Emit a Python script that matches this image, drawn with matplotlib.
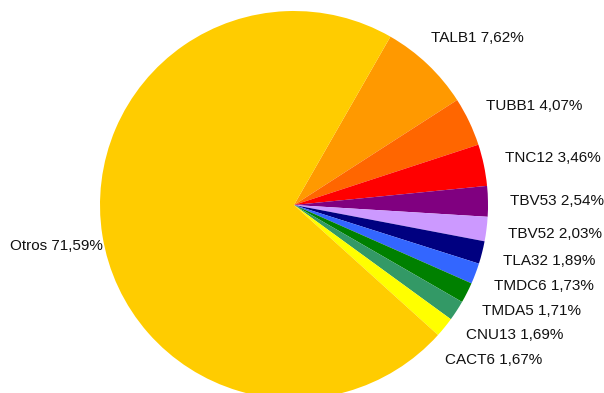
import numpy as np
import matplotlib
matplotlib.use('Agg')
import matplotlib.pyplot as plt

plt.rcParams['font.family'] = ['Liberation Sans', 'DejaVu Sans']

labels = ['TALB1', 'TUBB1', 'TNC12', 'TBV53', 'TBV52', 'TLA32',
          'TMDC6', 'TMDA5', 'CNU13', 'CACT6', 'Otros']
values = [7.62, 4.07, 3.46, 2.54, 2.03, 1.89, 1.73, 1.71, 1.69, 1.67, 71.59]
colors = ['#FF9900', '#FF6600', '#FF0000', '#800080', '#CC99FF', '#000080',
          '#3366FF', '#008000', '#339966', '#FFFF00', '#FFCC00']


def make_fig(outfile):
    fig = plt.figure(figsize=(6.04, 3.93), dpi=100)
    ax = fig.add_axes([0, 0, 1, 1])

    R = 194
    start = 60.2
    ax.pie(values, colors=colors, startangle=start, counterclock=False,
           radius=R, center=(0, 0), frame=True,
           wedgeprops=dict(linewidth=0))
    # axes in pixel units, pie centre at (294, 205) from top-left
    ax.set_xlim(-294, 310)
    ax.set_ylim(-188, 205)
    ax.axis('off')

    # label placement: natural height from wedge mid-angle, then spread downward
    total = sum(values)
    cum = np.cumsum([0] + values[:-1])
    mids = start - (cum + np.array(values) / 2) / total * 360
    last = None
    for i, m in enumerate(mids[:-1]):
        y = 230 * np.sin(np.radians(m))
        if last is not None and last - y < 24.5:
            y = last - 24.5
        last = y
        x = np.sqrt(max(216 ** 2 - y ** 2, 0))
        ax.text(x, y, f'{labels[i]} {values[i]:.2f}%'.replace('.', ','),
                ha='left', va='center', fontsize=11, color='#111111')

    m = np.radians(mids[-1])
    ax.text(R * np.cos(m), 215 * np.sin(m) - 7,
            f'{labels[-1]} {values[-1]:.2f}%'.replace('.', ','),
            ha='right', va='center', fontsize=11, color='#111111')

    fig.savefig(outfile, dpi=100)


if __name__ == '__main__':
    make_fig('out.png')
